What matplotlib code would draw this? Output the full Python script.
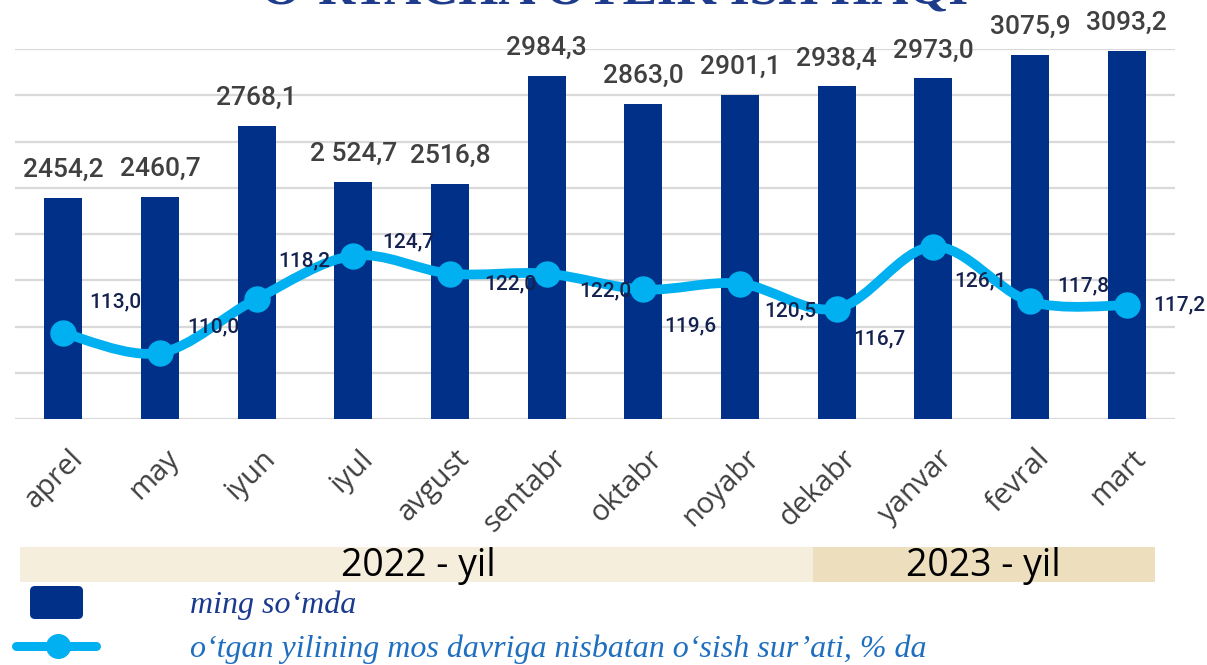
import matplotlib
matplotlib.use("Agg")
import matplotlib.pyplot as plt
import matplotlib.transforms as mtransforms
from matplotlib.path import Path
from matplotlib.patches import PathPatch, Rectangle, FancyBboxPatch
from matplotlib.lines import Line2D

# ---------------- data ----------------
months = ["aprel", "may", "iyun", "iyul", "avgust", "sentabr", "oktabr",
          "noyabr", "dekabr", "yanvar", "fevral", "mart"]
wages = [2454.2, 2460.7, 2768.1, 2524.7, 2516.8, 2984.3, 2863.0,
         2901.1, 2938.4, 2973.0, 3075.9, 3093.2]
wage_labels = ["2454,2", "2460,7", "2768,1", "2 524,7", "2516,8", "2984,3",
               "2863,0", "2901,1", "2938,4", "2973,0", "3075,9", "3093,2"]
growth = [113.0, 110.0, 118.2, 124.7, 122.0, 122.0, 119.6,
          120.5, 116.7, 126.1, 117.8, 117.2]
growth_labels = ["113,0", "110,0", "118,2", "124,7", "122,0", "122,0",
                 "119,6", "120,5", "116,7", "126,1", "117,8", "117,2"]
years = ["2022 - yil", "2023 - yil"]
title = "O\u2018RTACHA OYLIK ISH HAQI"
legend_labels = ["ming so\u2018mda",
                 "o\u2018tgan yilining mos davriga nisbatan o\u2018sish sur\u2019ati, % da"]

# label offsets for the growth labels (pixels, right / up)
growth_label_offsets = [(52, 31), (53, 26), (48, 38), (55, 14), (60, -10), (59, -17),
                        (47, -36), (50, -27), (43, -30), (47, -34), (53, 16), (53, 0)]

BAR_C = "#003087"
LINE_C = "#00B0F0"

W, H = 1207, 665
fig = plt.figure(figsize=(W / 100, H / 100), dpi=100)

def fx(px):
    return px / W

def fy(py):
    return 1 - py / H

ax_left, ax_right, ax_top, ax_bot = 15, 1175, 49, 419
ax = fig.add_axes([fx(ax_left), fy(ax_bot), fx(ax_right - ax_left), (ax_bot - ax_top) / H])

x = list(range(len(months)))
ax.bar(x, wages, width=0.39, color=BAR_C, zorder=2)
ax.set_xlim(-0.5, len(months) - 0.5)
ax.set_ylim(1500, 3100)
ax.set_yticks(range(1500, 3101, 200))
ax.yaxis.grid(True, color="#D9D9D9", linewidth=1.6, zorder=0)
ax.set_axisbelow(True)
ax.tick_params(axis="y", length=0, labelleft=False)
for s in ax.spines.values():
    s.set_visible(False)

for xi, v, lab in zip(x, wages, wage_labels):
    ax.annotate(lab, (xi, v), xytext=(0, 28), textcoords="offset pixels",
                ha="center", va="center", fontsize=19, family="Roboto",
                fontweight="medium", color="#404040", annotation_clip=False)

ax.set_xticks(x)
ax.set_xticklabels(months, rotation=45, ha="right", va="top", rotation_mode="anchor",
                   fontsize=21, family="Open Sans", color="#404040")
ax.tick_params(axis="x", length=0, pad=18)
offset = mtransforms.ScaledTranslation(5 / 100, 0, fig.dpi_scale_trans)
for lbl in ax.get_xticklabels():
    lbl.set_transform(lbl.get_transform() + offset)

# secondary axis with smoothed line
ax2 = ax.twinx()
ax2.set_ylim(100, 156)
ax2.set_axis_off()

pts = list(zip(x, growth))
verts = [pts[0]]
codes = [Path.MOVETO]
n = len(pts)
for i in range(n - 1):
    p0 = pts[i - 1] if i > 0 else pts[i]
    p1 = pts[i]
    p2 = pts[i + 1]
    p3 = pts[i + 2] if i + 2 < n else pts[i + 1]
    c1 = (p1[0] + (p2[0] - p0[0]) / 6, p1[1] + (p2[1] - p0[1]) / 6)
    c2 = (p2[0] - (p3[0] - p1[0]) / 6, p2[1] - (p3[1] - p1[1]) / 6)
    verts += [c1, c2, p2]
    codes += [Path.CURVE4] * 3
ax2.add_patch(PathPatch(Path(verts, codes), facecolor="none", edgecolor=LINE_C,
                        linewidth=7, capstyle="round", joinstyle="round", zorder=3))
ax2.plot(x, growth, linestyle="none", marker="o", markersize=18, color=LINE_C, zorder=4)

for xi, v, lab, (dx, dy) in zip(x, growth, growth_labels, growth_label_offsets):
    ax2.annotate(lab, (xi, v), xytext=(dx, dy), textcoords="offset pixels",
                 ha="center", va="center", fontsize=15, family="Roboto",
                 fontweight="medium", color="#15224F", annotation_clip=False, zorder=5)

# title (cut at top edge)
fig.text(fx(615), fy(4), title, ha="center", va="baseline", fontsize=37,
         family="Liberation Serif", fontweight="bold", color="#1F3B8C")

# year band
fig.patches.append(Rectangle((fx(20), fy(582)), fx(813 - 20), (582 - 547) / H,
                             transform=fig.transFigure, facecolor="#F6EEDD",
                             edgecolor="none"))
fig.patches.append(Rectangle((fx(813), fy(582)), fx(1155 - 813), (582 - 547) / H,
                             transform=fig.transFigure, facecolor="#EDDFBD",
                             edgecolor="none"))
fig.text(fx(418), fy(566), years[0], ha="center", va="center", fontsize=27,
         family="Open Sans", color="black")
fig.text(fx(983), fy(566), years[1], ha="center", va="center", fontsize=27,
         family="Open Sans", color="black")

# legend
fig.patches.append(FancyBboxPatch((0.30, (H - 619) / 100), 0.53, 0.33,
                                  boxstyle="round,pad=0,rounding_size=0.05",
                                  transform=fig.dpi_scale_trans,
                                  facecolor=BAR_C, edgecolor="none"))
fig.lines.append(Line2D([fx(16), fx(96)], [fy(646), fy(646)], transform=fig.transFigure,
                        color=LINE_C, linewidth=6.5, solid_capstyle="round"))
fig.lines.append(Line2D([fx(58)], [fy(646)], transform=fig.transFigure, color=LINE_C,
                        marker="o", markersize=17, linestyle="none"))
fig.text(fx(190), fy(605), legend_labels[0], ha="left", va="center", fontsize=23,
         family="Liberation Serif", style="italic", color="#1A3A8F")
fig.text(fx(190), fy(649), legend_labels[1], ha="left", va="center", fontsize=23,
         family="Liberation Serif", style="italic", color="#1F6FC0")

fig.savefig("out.png", dpi=100)
